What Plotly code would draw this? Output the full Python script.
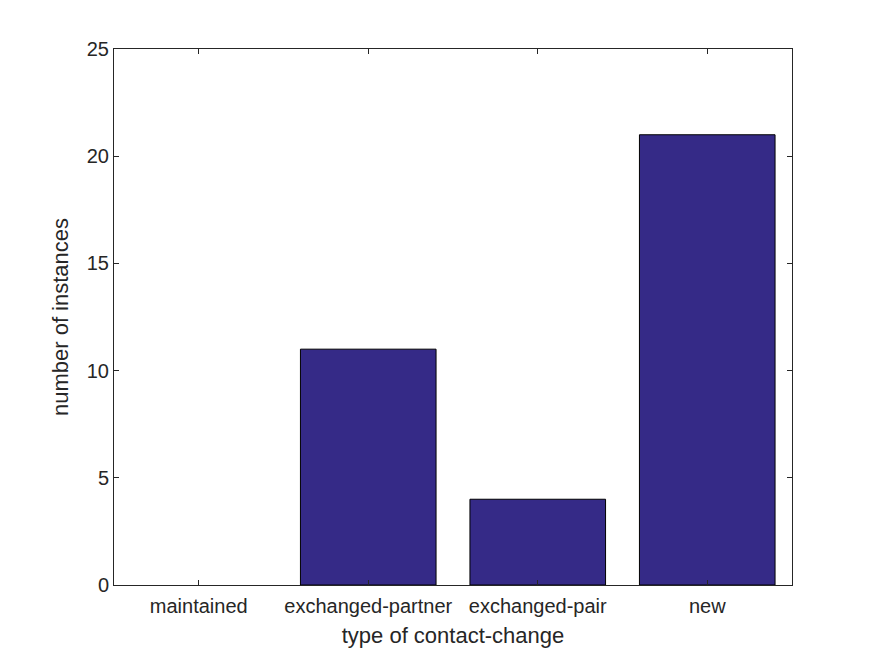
import plotly.graph_objects as go

categories = ["maintained", "exchanged-partner", "exchanged-pair", "new"]
counts = [0, 11, 4, 21]
y_ticks = [0, 5, 10, 15, 20, 25]

FONT = "Liberation Sans, Arial, sans-serif"
TXT = "#262626"

edge_widths = [1 if v > 0 else 0 for v in counts]

fig = go.Figure()
fig.add_trace(go.Bar(
    x=categories, y=counts, width=0.8,
    marker=dict(color="#352A87", line=dict(color="black", width=edge_widths)),
))

fig.update_layout(
    width=875, height=656,
    margin=dict(l=106, r=91, t=41, b=79),
    paper_bgcolor="white", plot_bgcolor="white",
    showlegend=False,
    font=dict(family=FONT, size=20, color=TXT),
    xaxis=dict(
        type="category", categoryorder="array", categoryarray=categories,
        range=[-0.5, 3.5],
        showline=True, linecolor=TXT, linewidth=1, mirror="ticks",
        ticks="inside", ticklen=5, tickcolor=TXT, ticklabelstandoff=3,
        showgrid=False, zeroline=False,
        tickfont=dict(family=FONT, size=20, color=TXT),
        title=dict(text="type of contact-change", font=dict(family=FONT, size=22, color=TXT), standoff=11),
    ),
    yaxis=dict(
        range=[0, 25], tickvals=y_ticks,
        showline=True, linecolor=TXT, linewidth=1, mirror="ticks",
        ticks="inside", ticklen=5, tickcolor=TXT,
        showgrid=False, zeroline=False,
        tickfont=dict(family=FONT, size=20, color=TXT),
        title=dict(text="number of instances", font=dict(family=FONT, size=22, color=TXT), standoff=12),
    ),
)

fig.write_html("out.html")
